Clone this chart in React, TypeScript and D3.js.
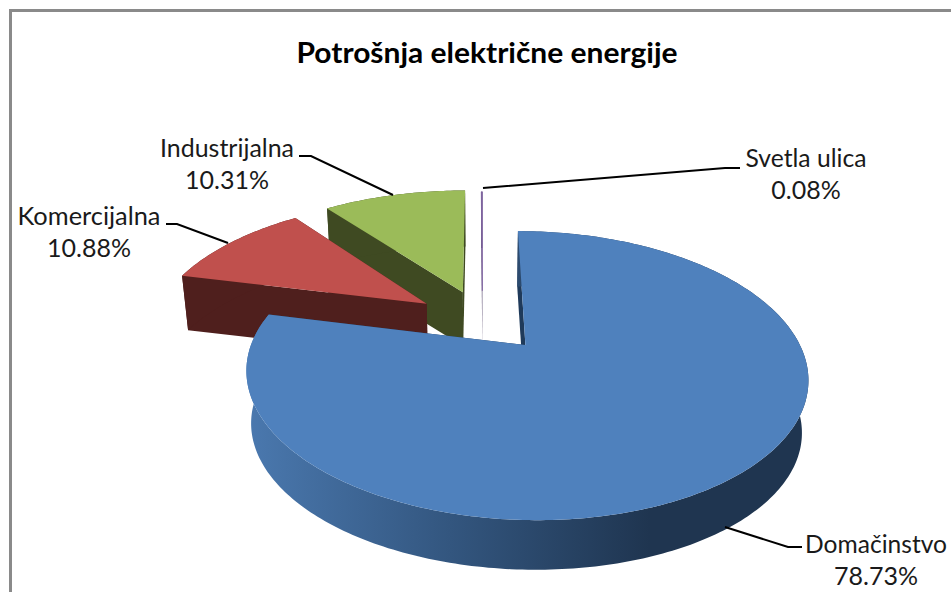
import React from 'react'
import * as d3 from 'd3'

const categories = ['Domačinstvo', 'Komercijalna', 'Industrijalna', 'Svetla ulica']
const shares = [78.73, 10.88, 10.31, 0.08]
const shareLabels = ['78.73%', '10.88%', '10.31%', '0.08%']
const topColors = ['#4f81bd', '#c0504d', '#9bbb59', '#8064a2']
const wallColors = ['url(#blueWall)', '#4f1f1d', '#3f4a22', '#4c3c62']
const chartTitle = 'Potrošnja električne energije'

// label layout, same order as categories
const labelCenters = [876, 89, 227, 806]
const labelWidths = [142, 143, 134, 121]
const labelBaselines = [553, 225, 157, 167]
const leaders = [
  [[802, 547], [788, 547], [725, 527]],
  [[166, 224], [177, 224], [228, 243]],
  [[299, 156], [311, 156], [393, 195]],
  [[740, 168], [725, 168], [483, 188]],
]

const width = 951
const height = 592

// perspective of the disc plane, fitted to the picture
const X0 = 482.5
const HORIZON = -309
const H = 629
const K = 0.203
const W = 264
const EXPLODE = 0.241
// small per slice corrections, the original 3d is not a clean projection
const sideNudge = [0.007, -0.015, 0, 0]
const radiusScale = [1, 1.035, 1.05, 1.02]
// bottom plane is the top plane scaled towards a far point below
const DEPTH_SCALE = 0.98
const DEPTH_Y = 3000

const project = (a: number, b: number): [number, number] => {
  const w = 1 - K * b
  return [X0 + (W * a) / w, HORIZON + H / w]
}
const drop = ([x, y]: [number, number]): [number, number] => [
  X0 + (x - X0) * DEPTH_SCALE,
  DEPTH_Y + (y - DEPTH_Y) * DEPTH_SCALE,
]

const path = d3.line()

const App = () => {
  const arcs = d3.pie<number>().sort(null)(shares)

  const slices = arcs.map((d, i) => {
    const mid = (d.startAngle + d.endAngle) / 2
    const ox = Math.sin(mid) * EXPLODE + sideNudge[i]
    const oy = -Math.cos(mid) * EXPLODE
    const r = radiusScale[i]
    const at = (t: number) => project(ox + r * Math.sin(t), oy - r * Math.cos(t))
    const steps = Math.max(2, Math.ceil((d.endAngle - d.startAngle) * 60))
    const rim = d3
      .range(steps + 1)
      .map((s) => at(d.startAngle + ((d.endAngle - d.startAngle) * s) / steps))
    const apex = project(ox, oy)
    return { i, rim, apex }
  })

  // back to front
  const order = [3, 2, 1, 0]

  return (
    <svg
      width={width}
      height={height}
      style={{ position: 'absolute', left: 0, top: 0, background: '#fff' }}
    >
      <defs>
        <linearGradient id='blueWall' gradientUnits='userSpaceOnUse' x1='250' x2='650' y1='0' y2='0'>
          <stop offset='0' stopColor='#4a78ae' />
          <stop offset='0.5' stopColor='#33567f' />
          <stop offset='1' stopColor='#1f3550' />
        </linearGradient>
      </defs>

      <path d='M10.5,592V10.5H951' fill='none' stroke='#8a8a8a' strokeWidth={3} />

      {order.map((idx) => {
        const { i, rim, apex } = slices[idx]
        const first = rim[0]
        const last = rim[rim.length - 1]
        return (
          <g key={categories[i]}>
            <path
              d={path([apex, last, drop(last), drop(apex)])! + 'Z'}
              fill={i === 0 ? '#1f3a5a' : wallColors[i]}
            />
            <path
              d={path([apex, first, drop(first), drop(apex)])! + 'Z'}
              fill={i === 0 ? '#1f3a5a' : wallColors[i]}
            />
            <path
              d={path([...rim, ...rim.map(drop).reverse()])! + 'Z'}
              fill={wallColors[i]}
            />
            <path
              d={path([apex, ...rim])! + 'Z'}
              fill={topColors[i]}
              stroke={i === 3 ? topColors[i] : 'none'}
              strokeWidth={i === 3 ? 0.8 : 0}
            />
          </g>
        )
      })}

      {leaders.map((pts, i) => (
        <path key={i} d={path(pts as [number, number][])!} fill='none' stroke='#000' strokeWidth={2} />
      ))}

      <text
        x={487}
        y={63}
        textAnchor='middle'
        fontFamily='Lato, "Open Sans", sans-serif'
        fontWeight={700}
        fontSize={29}
        textLength={381}
        lengthAdjust='spacingAndGlyphs'
        fill='#000'
      >
        {chartTitle}
      </text>

      {categories.map((name, i) => (
        <g
          key={name}
          fontFamily='Lato, "Open Sans", sans-serif'
          fontSize={25}
          fill='#1a1a1a'
          textAnchor='middle'
        >
          <text
            x={labelCenters[i]}
            y={labelBaselines[i]}
            textLength={labelWidths[i]}
            lengthAdjust='spacingAndGlyphs'
          >
            {name}
          </text>
          <text x={labelCenters[i]} y={labelBaselines[i] + 32}>
            {shareLabels[i]}
          </text>
        </g>
      ))}
    </svg>
  )
}

export default App
